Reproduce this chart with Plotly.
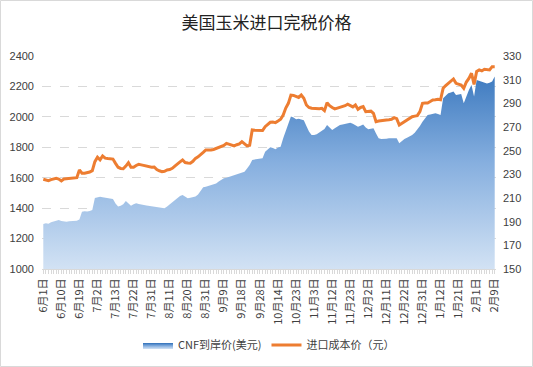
import plotly.graph_objects as go

# Tick labels shown on the category axis (every 7th trading day)
tick_labels = ["6月1日", "6月10日", "6月19日", "7月2日", "7月13日", "7月22日", "7月31日",
               "8月11日", "8月20日", "8月31日", "9月9日", "9月18日", "9月28日", "10月14日",
               "10月23日", "11月3日", "11月12日", "11月23日", "12月2日", "12月11日",
               "12月22日", "12月31日", "1月12日", "1月21日", "2月1日", "2月9日"]

# CNF到岸价(美元) - primary axis
cnf = [1295, 1300, 1298, 1308, 1312, 1318, 1322,
       1316, 1312, 1310, 1314, 1315, 1318, 1317,
       1326, 1377, 1380, 1378, 1382, 1388, 1467,
       1470, 1475, 1472, 1470, 1468, 1466, 1460,
       1430, 1410, 1415, 1425, 1447, 1430, 1416,
       1425, 1432, 1428, 1422, 1420, 1418, 1415,
       1412, 1410, 1408, 1405, 1402, 1399, 1410,
       1425, 1440, 1454, 1465, 1480, 1487, 1475,
       1465, 1468, 1472, 1476, 1490, 1510, 1537,
       1540, 1545, 1548, 1552, 1562, 1575, 1588,
       1596, 1600, 1605, 1612, 1618, 1622, 1628,
       1635, 1640, 1660, 1684, 1717, 1720, 1722,
       1725, 1728, 1771, 1785, 1800, 1795, 1787,
       1798, 1804, 1859, 1910, 1958, 2002, 1995,
       1985, 1988, 1982, 1978, 1940, 1903, 1881,
       1880, 1885, 1897, 1905, 1920, 1947, 1930,
       1914, 1925, 1935, 1947, 1950, 1955, 1958,
       1962, 1955, 1945, 1935, 1942, 1950, 1930,
       1919, 1922, 1925, 1890, 1859, 1855, 1853,
       1856, 1859, 1860, 1863, 1860, 1826, 1840,
       1855, 1862, 1870, 1881, 1895, 1914, 1940,
       1968, 1990, 2012, 2015, 2020, 2023, 2018,
       2012, 2122, 2140, 2155, 2160, 2166, 2144,
       2148, 2150, 2089, 2140, 2177, 2210, 2133,
       2243, 2238, 2232, 2228, 2220, 2225, 2232,
       2265]

# 进口成本价（元） - secondary axis
cost = [225.8, 225.0, 224.6, 225.5, 226.3, 226.6, 226.0,
        224.4, 226.0, 226.2, 226.5, 226.8, 227.0, 227.2,
        233.7, 230.9, 231.0, 231.4, 232.0, 233.1, 240.7,
        244.4, 242.2, 245.5, 243.7, 243.4, 243.1, 242.9,
        239.3, 236.0, 235.0, 234.7, 237.0, 239.8, 236.0,
        236.0, 237.5, 238.5, 238.0, 237.5, 236.5, 236.0,
        236.0, 236.2, 234.0, 233.0, 232.3, 232.6, 233.7,
        234.0, 235.1, 237.0, 239.0, 240.5, 242.1, 240.0,
        239.6, 239.4, 241.0, 243.5, 244.8, 246.3, 248.5,
        250.6, 250.4, 250.6, 251.0, 252.0, 252.6, 253.4,
        254.5, 256.2, 255.5, 254.8, 254.0, 255.0, 255.7,
        257.6, 256.0, 254.0, 254.6, 267.5, 267.3, 267.0,
        266.8, 267.0, 270.3, 272.0, 274.0, 274.2, 273.7,
        275.0, 276.5, 280.1, 286.0, 290.0, 297.0, 296.7,
        296.0, 295.0, 297.0, 294.3, 288.6, 286.5, 285.8,
        285.5, 285.3, 285.5, 285.8, 283.8, 290.5, 288.0,
        286.5, 285.3, 286.0, 286.5, 287.2, 288.0, 289.2,
        288.0, 287.0, 288.6, 285.0, 286.5, 287.2, 283.0,
        283.2, 283.4, 281.5, 274.5, 275.0, 275.5, 276.0,
        276.0, 276.2, 276.5, 277.9, 277.0, 271.7, 273.0,
        275.0, 276.0, 277.0, 278.7, 279.2, 279.6, 283.0,
        290.0, 290.2, 290.3, 291.5, 292.8, 293.0, 293.5,
        293.0, 302.7, 305.0, 306.9, 309.0, 310.6, 306.9,
        306.0, 305.5, 302.7, 308.0, 311.1, 315.4, 306.0,
        317.0, 318.2, 317.4, 318.8, 318.5, 318.2, 321.0,
        321.0]

idx = list(range(len(cnf)))
tick_pos = [i * 7 for i in range(len(tick_labels))]

fig = go.Figure()
fig.add_trace(go.Scatter(
    x=idx, y=cnf, name="CNF到岸价(美元)", mode="lines",
    line=dict(width=0, color="#4a86c8"),
    fill="tozeroy",
    fillgradient=dict(type="vertical", start=1000, stop=2400,
                      colorscale=[[0, "#d2e2f4"], [0.5, "#86afdf"], [1, "#2e6fb9"]]),
    yaxis="y"))
fig.add_trace(go.Scatter(
    x=idx, y=cost, name="进口成本价（元）", mode="lines",
    line=dict(width=3, color="#ED7D31"),
    yaxis="y2"))

tickfont = dict(family="Liberation Sans, Arial, sans-serif", size=11, color="#404040")

fig.update_layout(
    width=533, height=367,
    margin=dict(l=42, r=37, t=56, b=98, autoexpand=False),
    paper_bgcolor="white", plot_bgcolor="white",
    hovermode=False,
    title=dict(text="美国玉米进口完税价格", x=0.5, xanchor="center",
               yref="container", y=1 - 23 / 367, yanchor="middle",
               font=dict(family="Noto Sans CJK SC", size=17, color="#222222")),
    xaxis=dict(range=[-0.5, len(cnf) - 0.5], tickmode="array", tickvals=tick_pos,
               ticktext=tick_labels, tickangle=-90, showgrid=False, zeroline=False,
               showline=True, linecolor="#d9d9d9", linewidth=1, automargin=False,
               ticks="outside", ticklen=4, tickcolor="#d9d9d9",
               minor=dict(dtick=1, ticks="outside", ticklen=4, tickcolor="#d9d9d9"),
               tickfont=dict(family="Noto Sans CJK SC", size=11, color="#404040")),
    yaxis=dict(range=[1000, 2400], dtick=200, tick0=1000, showgrid=True,
               gridcolor="#d9d9d9", griddash="dash", gridwidth=1, zeroline=False,
               showline=False, tickfont=tickfont, ticks="", automargin=False,
               ticklabelstandoff=7),
    yaxis2=dict(range=[150, 330], dtick=20, tick0=150, overlaying="y", side="right",
                showgrid=False, zeroline=False, showline=False, tickfont=tickfont,
                automargin=False, ticklabelstandoff=6),
    legend=dict(orientation="h", x=0.5, xanchor="center",
                yref="container", y=1 - 345 / 367, yanchor="middle",
                font=dict(family="Noto Sans CJK SC", size=11, color="#404040"),
                bgcolor="rgba(0,0,0,0)"),
    showlegend=True,
)

# light border around the whole chart
fig.add_shape(type="rect", xref="paper", yref="paper",
              x0=-41.5 / 454, x1=1 + 36.5 / 454, y0=-97.5 / 213, y1=1 + 55.5 / 213,
              line=dict(color="#d9d9d9", width=1), layer="below")

fig.write_html("out.html", config={"displayModeBar": False},
               post_script="document.body.style.margin='0';document.body.style.overflow='hidden';")
